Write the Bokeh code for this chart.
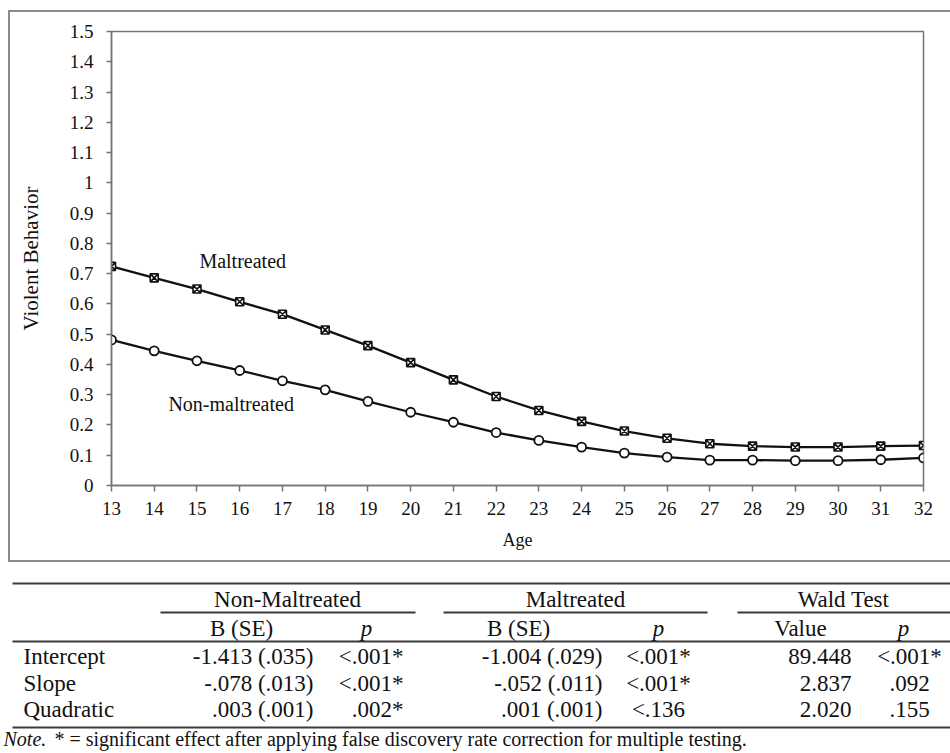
from bokeh.plotting import figure
from bokeh.layouts import column
from bokeh.models import Range1d, FixedTicker
from bokeh.core.properties import value
from bokeh.embed import file_html
from bokeh.resources import INLINE

# ---------------- data ----------------
ages = [13, 14, 15, 16, 17, 18, 19, 20, 21, 22, 23, 24, 25, 26, 27, 28, 29, 30, 31, 32]
maltreated = [0.724, 0.686, 0.649, 0.607, 0.566, 0.514, 0.462, 0.406, 0.349, 0.294,
              0.248, 0.212, 0.180, 0.156, 0.138, 0.130, 0.127, 0.127, 0.130, 0.132]
non_maltreated = [0.481, 0.445, 0.412, 0.380, 0.346, 0.316, 0.278, 0.242, 0.209, 0.175,
                  0.149, 0.127, 0.107, 0.094, 0.084, 0.084, 0.082, 0.082, 0.085, 0.091]
y_ticks = [0, 0.1, 0.2, 0.3, 0.4, 0.5, 0.6, 0.7, 0.8, 0.9, 1, 1.1, 1.2, 1.3, 1.4, 1.5]
y_tick_labels = ["0", "0.1", "0.2", "0.3", "0.4", "0.5", "0.6", "0.7", "0.8", "0.9",
                 "1", "1.1", "1.2", "1.3", "1.4", "1.5"]

row_labels = ["Intercept", "Slope", "Quadratic"]
group_headers = ["Non-Maltreated", "Maltreated", "Wald Test"]
non_b = ["-1.413 (.035)", "-.078 (.013)", ".003 (.001)"]
non_p = ["<.001*", "<.001*", ".002*"]
mal_b = ["-1.004 (.029)", "-.052 (.011)", ".001 (.001)"]
mal_p = ["<.001*", "<.001*", "<.136"]
wald_v = ["89.448", "2.837", "2.020"]
wald_p = ["<.001*", ".092", ".155"]
note_head = "Note."
note_body = "* = significant effect after applying false discovery rate correction for multiple testing."

SERIF = value("Liberation Serif")
INK = "#111111"
GREY = "#747474"
BOX = "#8a8a8a"

TOP_H = 563

# ---------------- chart ----------------
p = figure(width=950, height=TOP_H, output_backend="svg", toolbar_location=None,
           x_range=Range1d(13, 32), y_range=Range1d(0, 1.5),
           min_border_left=111, min_border_right=27, min_border_top=31,
           min_border_bottom=TOP_H - 485)
p.frame_align = False
p.grid.visible = False
p.outline_line_color = GREY
p.outline_line_width = 1.5
p.background_fill_color = "white"
p.border_fill_color = None
# outer box around the chart, painted behind the transparent canvas border
p.styles = {
    "background-color": "white",
    "background-image": ("linear-gradient(%s,%s), linear-gradient(%s,%s), "
                         "linear-gradient(%s,%s)") % (BOX, BOX, BOX, BOX, BOX, BOX),
    "background-size": "2px 550px, 945px 2px, 945px 2px",
    "background-position": "8px 11px, 8px 10px, 8px 560px",
    "background-repeat": "no-repeat",
}

xa = p.xaxis[0]
xa.ticker = FixedTicker(ticks=ages)
xa.axis_label = "Age"
ya = p.yaxis[0]
ya.ticker = FixedTicker(ticks=y_ticks)
ya.major_label_overrides = dict(zip(y_ticks, y_tick_labels))
ya.axis_label = "Violent Behavior"

for ax in (xa, ya):
    ax.axis_line_color = GREY
    ax.axis_line_width = 1.5
    ax.major_tick_line_color = GREY
    ax.major_tick_line_width = 1.5
    ax.major_tick_in = 0
    ax.minor_tick_line_color = None
    ax.major_label_text_font = "Liberation Serif"
    ax.major_label_text_font_size = "19px"
    ax.major_label_text_color = INK
    ax.axis_label_text_font = "Liberation Serif"
    ax.axis_label_text_font_style = "normal"
    ax.axis_label_text_color = INK

xa.major_tick_out = 6
xa.major_label_standoff = 10
xa.axis_label_text_font_size = "18px"
xa.axis_label_standoff = 12
ya.major_tick_out = 5
ya.major_label_standoff = 13
ya.axis_label_text_font_size = "21px"
ya.axis_label_standoff = 24

p.line(ages, maltreated, line_color=INK, line_width=2.3)
p.scatter(ages, maltreated, marker="square_x", size=8, line_color=INK, line_width=1.6, fill_color="white")
p.line(ages, non_maltreated, line_color=INK, line_width=2.3)
p.scatter(ages, non_maltreated, marker="circle", size=9, line_color=INK, line_width=1.8, fill_color="white")

p.text(x=[16.07], y=[0.743], text=["Maltreated"], text_font=SERIF, text_font_size="20px",
       text_align="center", text_baseline="middle", text_color=INK)
p.text(x=[15.8], y=[0.268], text=["Non-maltreated"], text_font=SERIF, text_font_size="20px",
       text_align="center", text_baseline="middle", text_color=INK)

# ---------------- table ----------------
t = figure(width=950, height=753 - TOP_H, output_backend="svg", toolbar_location=None,
           x_range=Range1d(0, 950), y_range=Range1d(753, TOP_H),
           x_axis_type=None, y_axis_type=None, min_border=0)
t.frame_align = False
t.grid.visible = False
t.outline_line_color = None
t.background_fill_color = "white"
t.border_fill_color = "white"

RULE = "#3a3a3a"
t.segment(x0=[12, 12, 12], y0=[583, 641, 727], x1=[950, 950, 950], y1=[583, 641, 727],
          line_color=RULE, line_width=1.8)
t.segment(x0=[160, 443, 737], y0=[612, 612, 612], x1=[415, 707, 950], y1=[612, 612, 612],
          line_color=RULE, line_width=1.8)

FS = "23px"

def txt(xs, ys, texts, align, style="normal", size=FS):
    t.text(x=xs, y=ys, text=texts, text_font=SERIF, text_font_size=size, text_font_style=style,
           text_align=align, text_baseline="middle", text_color=INK)

txt([287, 575, 843], [599] * 3, group_headers, "center")
txt([241, 518, 800], [628] * 3, ["B (SE)", "B (SE)", "Value"], "center")
txt([366, 658, 903], [628] * 3, ["p", "p", "p"], "center", style="italic")

rows_y = [656, 683, 709]
txt([23] * 3, rows_y, row_labels, "left")
txt([313] * 3, rows_y, non_b, "right")
txt([403] * 3, rows_y, non_p, "right")
txt([602] * 3, rows_y, mal_b, "right")
txt([658] * 3, rows_y, mal_p, "center")
txt([851] * 3, rows_y, wald_v, "right")
txt([909] * 3, rows_y, wald_p, "center")

txt([3], [738], [note_head], "left", style="italic", size="20px")
txt([54], [738], [note_body], "left", size="20px")

layout = column(p, t)
open("out.html", "w").write(file_html(layout, INLINE))
